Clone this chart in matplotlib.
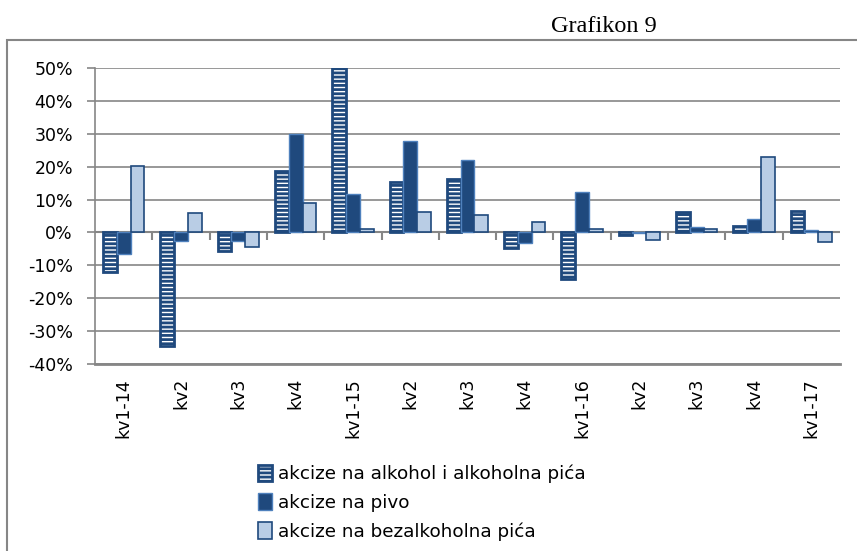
import matplotlib.pyplot as plt
from matplotlib.patches import Rectangle
import numpy as np

categories = ["kv1-14", "kv2", "kv3", "kv4", "kv1-15", "kv2", "kv3", "kv4",
              "kv1-16", "kv2", "kv3", "kv4", "kv1-17"]

# percent changes
alkohol = [-12.0, -34.6, -5.7, 18.8, 50.0, 15.3, 16.2, -4.6, -14.0, -0.8, 6.2, 2.0, 6.5]
pivo = [-6.6, -2.5, -2.6, 30.0, 11.8, 27.7, 22.0, -3.1, 12.4, -0.3, 1.8, 4.0, 0.8]
bezalkoholna = [20.1, 6.0, -4.4, 9.0, 0.9, 6.1, 5.2, 3.3, 1.2, -2.2, 1.2, 22.8, -2.8]

series_names = ["akcize na alkohol i alkoholna pića",
                "akcize na pivo",
                "akcize na bezalkoholna pića"]
yticks = [-40, -30, -20, -10, 0, 10, 20, 30, 40, 50]

plt.rcParams['font.family'] = ['DejaVu Sans']
plt.rcParams['hatch.linewidth'] = 2.0
plt.rcParams['hatch.color'] = '#0B2A66'

fig = plt.figure(figsize=(8.57, 5.51), dpi=100)
ax = fig.add_axes([0.111, 0.339, 0.869, 0.538])

x = np.arange(len(categories))
w = 0.24
grid_c = '#868686'

ax.bar(x - w, alkohol, w, color='white', edgecolor='#1F497D', linewidth=2.0,
       hatch='----', label=series_names[0], zorder=3)
ax.bar(x, pivo, w, color='#1F497D', edgecolor='#4F81BD', linewidth=1.0,
       label=series_names[1], zorder=3)
ax.bar(x + w, bezalkoholna, w, color='#B9CDE5', edgecolor='#1F497D', linewidth=1.2,
       label=series_names[2], zorder=3)

ax.set_xlim(-0.5, len(categories) - 0.5)
ax.set_ylim(-40, 50)
ax.set_yticks(yticks)
ax.set_yticklabels([f"{v}%" for v in yticks], fontsize=12.5)
ax.yaxis.grid(True, color=grid_c, linewidth=1.2, zorder=0)
ax.tick_params(axis='y', length=6, color=grid_c, width=1.2, pad=10)

ax.set_xticks(x)
ax.set_xticklabels(categories, rotation=90, fontsize=12.5)
ax.tick_params(axis='x', length=0, pad=10)

# zero line with category separators
ax.axhline(0, color=grid_c, linewidth=1.5, zorder=2)
ax.vlines(x[:-1] + 0.5, -2.2, 0, color=grid_c, linewidth=1.5, zorder=2)

for s in ['top', 'right']:
    ax.spines[s].set_visible(False)
ax.spines['left'].set_color(grid_c)
ax.spines['left'].set_linewidth(1.2)
ax.spines['bottom'].set_color(grid_c)
ax.spines['bottom'].set_linewidth(2.0)

fig.legend(loc='upper left', bbox_to_anchor=(0.292, 0.17), frameon=False,
           fontsize=13.2, handlelength=0.8, handleheight=1.0, handletextpad=0.3,
           labelspacing=0.56, borderaxespad=0)

# outer frame and caption
fig.patches.append(Rectangle((7 / 857, -0.05), 1.0, 1 - 40 / 551 + 0.05,
                             transform=fig.transFigure, fill=False,
                             edgecolor=grid_c, linewidth=1.5))
fig.text(604 / 857, 1 - 27 / 551, "Grafikon 9", family='Liberation Serif',
         fontsize=17.5, ha='center', va='center')

fig.savefig('out.png', dpi=100)
